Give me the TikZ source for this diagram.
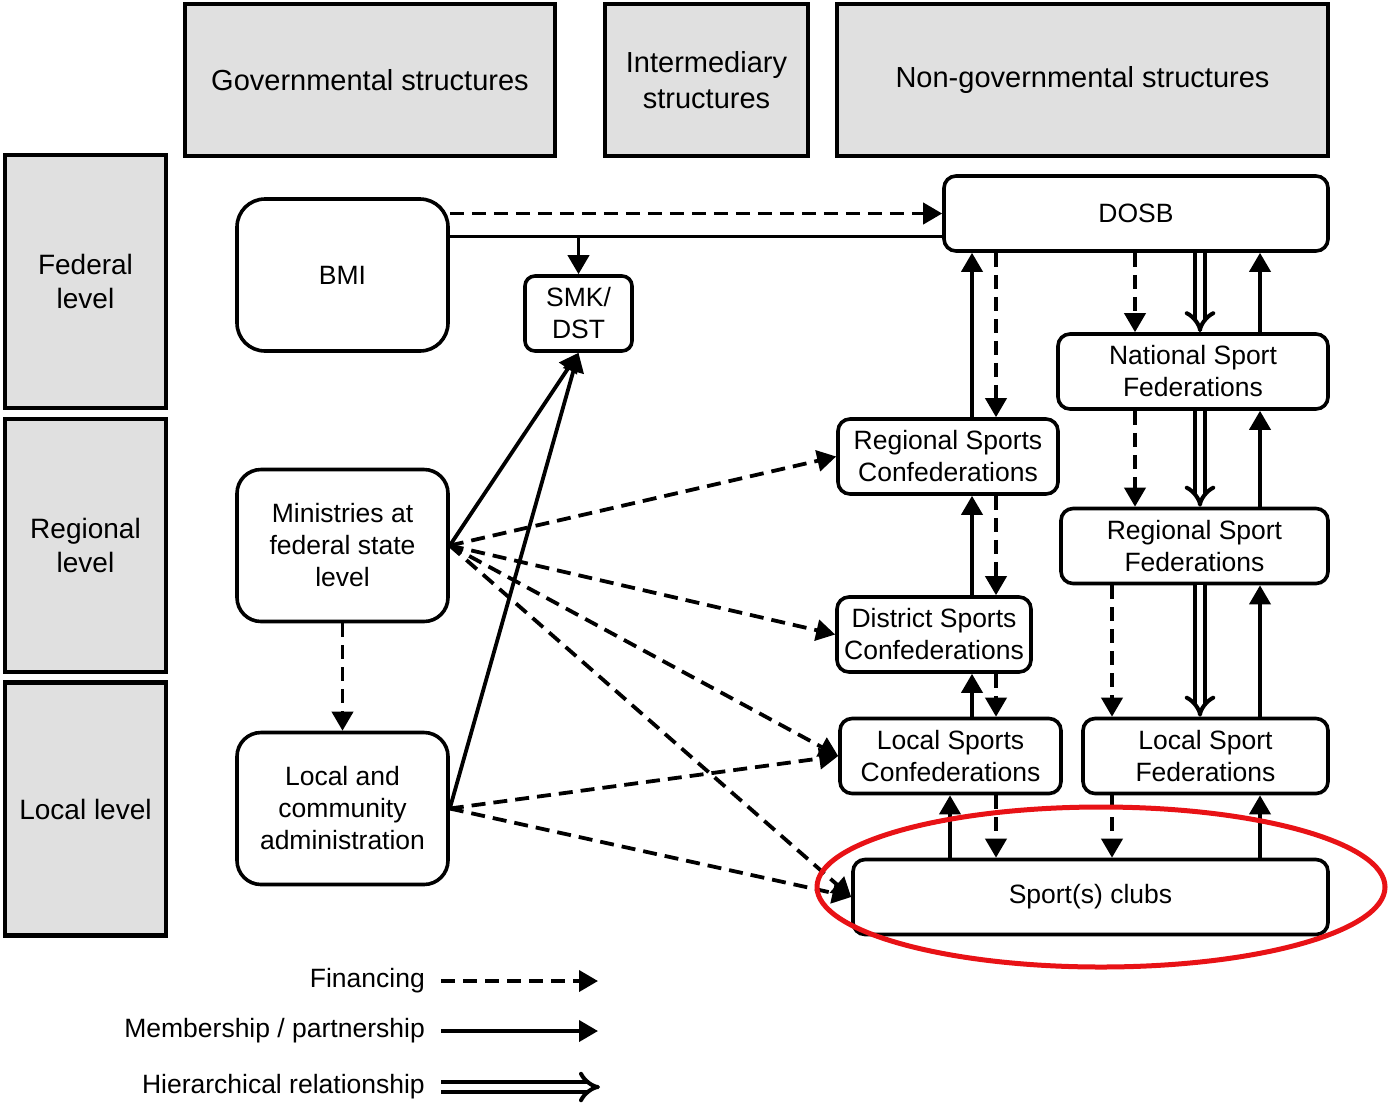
\documentclass[tikz,border=0pt]{standalone}
\usepackage{fontspec}
\setmainfont{Liberation Sans}
\usepackage{tikz}
\usetikzlibrary{arrows.meta}
\definecolor{ringred}{RGB}{232,18,22}

\begin{document}
\begin{tikzpicture}[x=1pt,y=-1pt,
    header/.style={draw,line width=4.5pt,fill=black!12,inner sep=0pt,align=center,font=\fontsize{29}{36}\selectfont},
    level/.style={header,minimum width=161,minimum height=253,font=\fontsize{28}{34}\selectfont},
    box/.style={draw,line width=3.6pt,rounded corners=12pt,fill=white,inner sep=0pt,align=center,minimum height=75,font=\fontsize{26.5}{32}\selectfont},
    bigbox/.style={box,rounded corners=28pt,minimum width=211,minimum height=152},
    fund/.style={line width=3.8pt,dash pattern=on 14pt off 8pt,-{Triangle[length=19pt,width=21pt]}},
    member/.style={line width=3.8pt,-{Triangle[length=19pt,width=21pt]}},
    hier/.style={double,line width=4pt,double distance=6pt,-{Implies[scale=1.5]}}]

        \useasboundingbox (0,0) rectangle (1389,1104);

        \node[header,minimum width=370,minimum height=152] (gov) at (370,80) {Governmental structures};
        \node[header,minimum width=203,minimum height=152] (inter) at (706.5,80) {Intermediary\\structures};
        \node[header,minimum width=491,minimum height=152] (nongov) at (1082.5,80) {Non-governmental structures};

        \node[level] (federal) at (85.5,281.5) {Federal\\level};
        \node[level] (regional) at (85.5,545.5) {Regional\\level};
        \node[level] (local) at (85.5,809) {Local level};

        \node[bigbox] (bmi) at (342.5,275) {BMI};
        \node[box,minimum width=107,rounded corners=10pt] (smk) at (578.5,313.5) {SMK/\\DST};
        \node[bigbox,rounded corners=24pt] (mini) at (342.5,545.5) {Ministries at\\federal state\\level};
        \node[bigbox,rounded corners=24pt] (admin) at (342.5,808.5) {Local and\\community\\administration};

        \node[box,minimum width=384] (dosb) at (1136,213.5) {DOSB};
        \node[box,minimum width=270] (nsf) at (1193,371.5) {National Sport\\Federations};
        \node[box,minimum width=220] (rsc) at (948,456.5) {Regional Sports\\Confederations};
        \node[box,minimum width=267] (rsf) at (1194.5,546) {Regional Sport\\Federations};
        \node[box,minimum width=194] (dsc) at (934,634.5) {District Sports\\Confederations};
        \node[box,minimum width=221] (lsc) at (950.5,756) {Local Sports\\Confederations};
        \node[box,minimum width=245] (lsf) at (1205.5,756) {Local Sport\\Federations};
        \node[box,minimum width=475] (clubs) at (1090.5,897) {Sport(s) clubs};

        \coordinate (xup) at (972,0);
        \coordinate (xcl) at (950,0);
        \coordinate (xdn) at (996,0);
        \coordinate (xfin) at (1135,0);
        \coordinate (xlfin) at (1112,0);
        \coordinate (xhier) at (1200,0);
        \coordinate (xright) at (1260,0);
        \coordinate (link) at ([yshift=-23pt]dosb.west);

        \draw[fund] (bmi.east |- dosb.west) -- (dosb.west);
        \draw[line width=3.4pt] (bmi.east |- link) -- (link);
        \draw[member] (link -| smk.north) -- (smk.north);
        \draw[member] (mini.east) -- (smk.south);
        \draw[member] (admin.east) -- (smk.south);
        \draw[fund] (mini.south) -- (admin.north);

        \draw[fund] (mini.east) -- (rsc.west);
        \draw[fund] (mini.east) -- (dsc.west);
        \draw[fund] (mini.east) -- (lsc.west);
        \draw[fund] (mini.east) -- (clubs.west);
        \draw[fund] (admin.east) -- (lsc.west);
        \draw[fund] (admin.east) -- (clubs.west);

        \draw[member] (rsc.north -| xup) -- (dosb.south -| xup);
        \draw[fund] (dosb.south -| xdn) -- (rsc.north -| xdn);
        \draw[member] (dsc.north -| xup) -- (rsc.south -| xup);
        \draw[fund] (rsc.south -| xdn) -- (dsc.north -| xdn);
        \draw[member] (lsc.north -| xup) -- (dsc.south -| xup);
        \draw[fund] (dsc.south -| xdn) -- (lsc.north -| xdn);
        \draw[member] (clubs.north -| xcl) -- (lsc.south -| xcl);
        \draw[fund] (lsc.south -| xdn) -- (clubs.north -| xdn);

        \draw[fund] (dosb.south -| xfin) -- (nsf.north -| xfin);
        \draw[hier] (dosb.south -| xhier) -- (nsf.north -| xhier);
        \draw[member] (nsf.north -| xright) -- (dosb.south -| xright);
        \draw[fund] (nsf.south -| xfin) -- (rsf.north -| xfin);
        \draw[hier] (nsf.south -| xhier) -- (rsf.north -| xhier);
        \draw[member] (rsf.north -| xright) -- (nsf.south -| xright);
        \draw[fund] (rsf.south -| xlfin) -- (lsf.north -| xlfin);
        \draw[hier] (rsf.south -| xhier) -- (lsf.north -| xhier);
        \draw[member] (lsf.north -| xright) -- (rsf.south -| xright);
        \draw[fund] (lsf.south -| xlfin) -- (clubs.north -| xlfin);
        \draw[member] (clubs.north -| xright) -- (lsf.south -| xright);

        \draw[ringred,line width=5pt] (1101,887) ellipse [x radius=284pt,y radius=80pt];

        \node[anchor=east,inner sep=0pt,font=\fontsize{26.5}{32}\selectfont] (lfin) at (425,981) {Financing};
        \node[anchor=east,inner sep=0pt,font=\fontsize{26.5}{32}\selectfont] (lmem) at (425,1031) {Membership / partnership};
        \node[anchor=east,inner sep=0pt,font=\fontsize{26.5}{32}\selectfont] (lhier) at (425,1087) {Hierarchical relationship};
        \draw[fund] ([xshift=16pt]lfin.east) -- ([xshift=173pt]lfin.east);
        \draw[member] ([xshift=16pt]lmem.east) -- ([xshift=173pt]lmem.east);
        \draw[hier] ([xshift=16pt]lhier.east) -- ([xshift=175pt]lhier.east);

\end{tikzpicture}
\end{document}
